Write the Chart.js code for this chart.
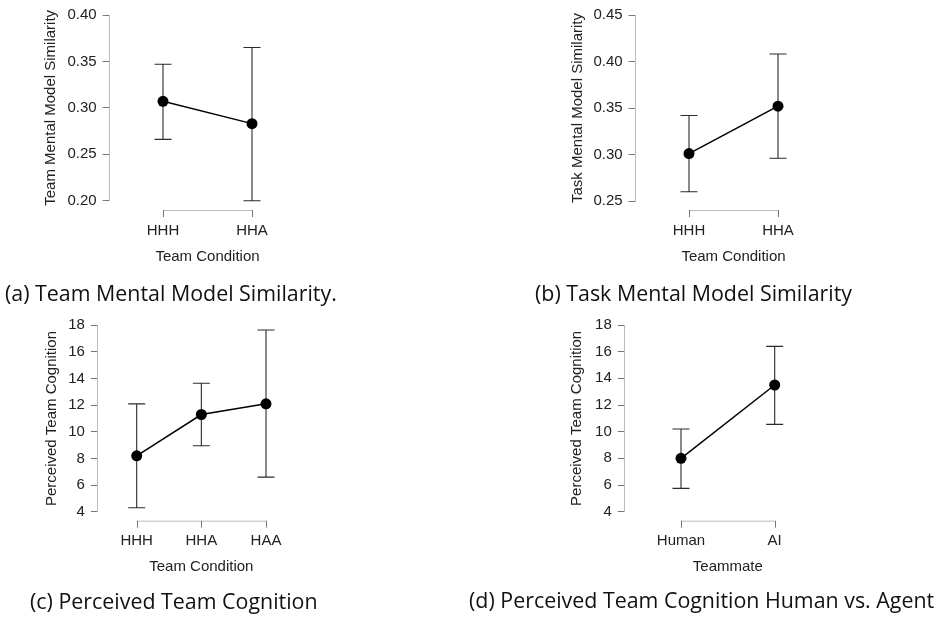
<!DOCTYPE html>
<html>
<head>
<meta charset="utf-8">
<script src="https://cdn.jsdelivr.net/npm/chart.js@4.4.1/dist/chart.umd.min.js"></script>
<style>
  html, body { margin: 0; padding: 0; background: #fff; }
  #page { position: relative; width: 938px; height: 621px; background: #fff; overflow: hidden; }
  canvas { position: absolute; }
  .cap { position: absolute; font-family: "Open Sans", "Noto Sans", sans-serif; font-size: 21.4px; color: #111; white-space: nowrap; line-height: 26px; }
</style>
</head>
<body>
<div id="page">
  <canvas id="ca" width="330" height="280" style="left:0px;top:0px"></canvas>
  <canvas id="cb" width="340" height="280" style="left:500px;top:0px"></canvas>
  <canvas id="cc" width="330" height="280" style="left:0px;top:310px"></canvas>
  <canvas id="cd" width="340" height="280" style="left:500px;top:310px"></canvas>
  <div class="cap" style="left:5px;top:280px">(a) Team Mental Model Similarity.</div>
  <div class="cap" style="left:535px;top:280px">(b) Task Mental Model Similarity</div>
  <div class="cap" style="left:30px;top:588px">(c) Perceived Team Cognition</div>
  <div class="cap" style="left:469px;top:587px">(d) Perceived Team Cognition Human vs. Agent</div>
</div>
<script>
// ---------- DATA ----------
const catsA = ["HHH", "HHA"];
const meanA = [0.307, 0.283];
const lowA  = [0.266, 0.200];
const highA = [0.347, 0.365];
const yTicksA = [0.20, 0.25, 0.30, 0.35, 0.40];

const catsB = ["HHH", "HHA"];
const meanB = [0.301, 0.352];
const lowB  = [0.260, 0.296];
const highB = [0.342, 0.408];
const yTicksB = [0.25, 0.30, 0.35, 0.40, 0.45];

const catsC = ["HHH", "HHA", "HAA"];
const meanC = [8.2, 11.3, 12.1];
const lowC  = [4.3, 8.95, 6.6];
const highC = [12.1, 13.65, 17.65];
const yTicksC = [4, 6, 8, 10, 12, 14, 16, 18];

const catsD = ["Human", "AI"];
const meanD = [8.0, 13.5];
const lowD  = [5.75, 10.55];
const highD = [10.2, 16.4];
const yTicksD = [4, 6, 8, 10, 12, 14, 16, 18];

// ---------- RENDER ----------
const FONT = "'Liberation Sans', Arial, sans-serif";
const FS = 15;
const LH = FS * 1.2;
const PADX = 0.6;

const errorBarPlugin = {
  id: 'errbars',
  beforeDatasetsDraw(chart, args, opts) {
    const {ctx, scales: {x, y}} = chart;
    ctx.save();
    ctx.strokeStyle = '#2a2a2a';
    ctx.lineWidth = 1.1;
    opts.low.forEach((lo, i) => {
      const px = x.getPixelForValue(i);
      const p1 = y.getPixelForValue(lo);
      const p2 = y.getPixelForValue(opts.high[i]);
      ctx.beginPath();
      ctx.moveTo(px, p1); ctx.lineTo(px, p2);
      ctx.moveTo(px - 8.5, p1); ctx.lineTo(px + 8.5, p1);
      ctx.moveTo(px - 8.5, p2); ctx.lineTo(px + 8.5, p2);
      ctx.stroke();
    });
    ctx.restore();
  },
  afterDraw(chart, args, opts) {
    // detached x axis line (from first to last category) with tick marks
    const {ctx, scales: {x}, chartArea} = chart;
    const n = opts.low.length;
    const yy = chartArea.bottom + opts.gap;
    const x0 = x.getPixelForValue(0), x1 = x.getPixelForValue(n - 1);
    ctx.save();
    ctx.strokeStyle = '#bbb';
    ctx.lineWidth = 1;
    ctx.beginPath(); ctx.moveTo(x0, yy + 0.5); ctx.lineTo(x1, yy + 0.5); ctx.stroke();
    ctx.strokeStyle = '#777';
    ctx.beginPath();
    for (let i = 0; i < n; i++) {
      const px = Math.round(x.getPixelForValue(i)) + 0.5;
      ctx.moveTo(px, yy); ctx.lineTo(px, yy + 7);
    }
    ctx.stroke();
    ctx.restore();
  }
};

function makePanel(id, g, cats, mean, low, high, yTicks, dec, yTitle, xTitle) {
  const el = document.getElementById(id);
  const cx = parseFloat(el.style.left), cy = parseFloat(el.style.top);
  const cw = el.width, ch = el.height;
  const n = cats.length;
  const unit = (g.lastX - g.firstX) / (n - 1);
  const left = g.firstX - PADX * unit - cx;
  const right = g.lastX + PADX * unit - cx;
  const top = g.topY - cy, bottom = g.bottomY - cy;
  const padLeft = g.yTitleX - cx - LH / 2;
  new Chart(el, {
    type: 'line',
    data: {
      datasets: [{
        data: mean.map((v, i) => ({x: i, y: v})),
        borderColor: '#000', borderWidth: 1.5,
        pointRadius: 5.5, pointBackgroundColor: '#000', pointBorderColor: '#000', pointBorderWidth: 0,
        tension: 0
      }]
    },
    options: {
      responsive: false, animation: false, devicePixelRatio: 1,
      layout: { padding: { left: padLeft, top: top, right: cw - right, bottom: 0 } },
      plugins: {
        legend: { display: false }, tooltip: { enabled: false },
        errbars: { low: low, high: high, gap: g.axisY - g.bottomY }
      },
      scales: {
        x: {
          type: 'linear', min: -PADX, max: n - 1 + PADX,
          afterBuildTicks: s => { s.ticks = cats.map((c, i) => ({value: i})); },
          afterFit: s => { s.height = ch - bottom; },
          ticks: { callback: v => cats[v], color: '#222', font: {family: FONT, size: FS}, padding: g.xLabY - g.bottomY - LH / 2 - 7, maxRotation: 0, autoSkip: false },
          grid: { display: false }, border: { display: false },
          title: { display: true, text: xTitle, color: '#222', font: {family: FONT, size: FS}, padding: {top: 0, bottom: ch - (g.xTitleY - cy) - LH / 2} }
        },
        y: {
          min: yTicks[0], max: yTicks[yTicks.length - 1],
          afterBuildTicks: s => { s.ticks = yTicks.map(v => ({value: v})); },
          afterFit: s => { s.width = left - padLeft; },
          ticks: { callback: v => v.toFixed(dec), color: '#222', font: {family: FONT, size: FS}, padding: 6 },
          grid: { display: true, drawOnChartArea: false, drawTicks: true, tickLength: 7, tickColor: '#777', tickWidth: 1 },
          border: { display: true, color: '#bbb', width: 1 },
          title: { display: true, text: yTitle, color: '#222', font: {family: FONT, size: FS}, padding: {top: 0, bottom: 0} }
        }
      }
    },
    plugins: [errorBarPlugin]
  });
}

makePanel('ca', {firstX: 163, lastX: 252, topY: 15, bottomY: 200.7, axisY: 210, xLabY: 230, xTitleY: 257, yTitleX: 51},
  catsA, meanA, lowA, highA, yTicksA, 2, 'Team Mental Model Similarity', 'Team Condition');
makePanel('cb', {firstX: 689, lastX: 778, topY: 15, bottomY: 201, axisY: 210, xLabY: 230, xTitleY: 257, yTitleX: 578},
  catsB, meanB, lowB, highB, yTicksB, 2, 'Task Mental Model Similarity', 'Team Condition');
makePanel('cc', {firstX: 136.7, lastX: 266, topY: 325.3, bottomY: 511.7, axisY: 520.7, xLabY: 540, xTitleY: 566.7, yTitleX: 51.5},
  catsC, meanC, lowC, highC, yTicksC, 0, 'Perceived Team Cognition', 'Team Condition');
makePanel('cd', {firstX: 681, lastX: 774.7, topY: 325, bottomY: 511.7, axisY: 520.7, xLabY: 540, xTitleY: 566.7, yTitleX: 577},
  catsD, meanD, lowD, highD, yTicksD, 0, 'Perceived Team Cognition', 'Teammate');
</script>
</body>
</html>
